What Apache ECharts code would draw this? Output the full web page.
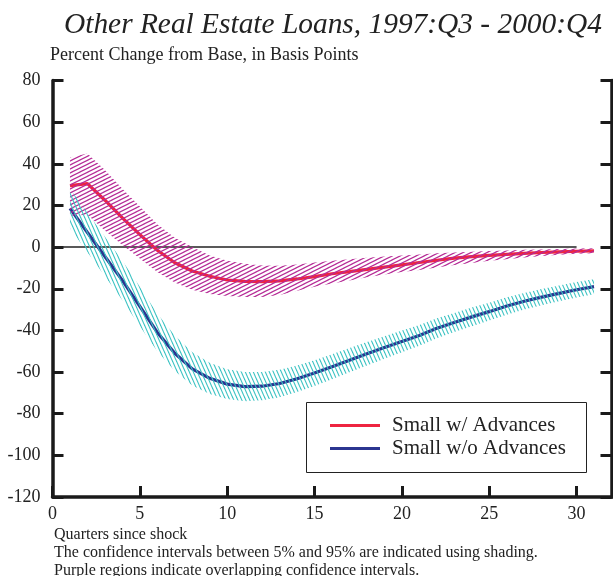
<!DOCTYPE html>
<html>
<head>
<meta charset="utf-8">
<script src="https://cdn.jsdelivr.net/npm/echarts@6/dist/echarts.min.js"></script>
<style>
html,body{margin:0;padding:0;background:#fff;}
#chart{width:613px;height:576px;}
</style>
</head>
<body>
<div id="chart"></div>
<script>
// ---- data ----
const quarters = [1,2,3,4,5,6,7,8,9,10,11,12,13,14,15,16,17,18,19,20,21,22,23,24,25,26,27,28,29,30,31];
const redMid   = [29.5,30.5,22.5,14,6,-1.5,-7.5,-11.5,-14,-15.8,-16.5,-16.6,-16.2,-15.3,-14.2,-12.8,-11.8,-10.7,-9.6,-8.5,-7.4,-6.3,-5.3,-4.6,-4.0,-3.5,-3.0,-2.6,-2.3,-2.0,-1.8];
const redUpper = [43,45,37,28,19.5,11,4.5,0,-4,-6.5,-8,-8.8,-9,-8.3,-7.4,-6.5,-5.8,-5.1,-4.5,-4,-3.5,-3,-2.6,-2.2,-1.9,-1.6,-1.3,-1.1,-0.9,-0.7,-0.5];
const redLower = [15,15.5,8,1,-5.5,-12,-17,-20.5,-22.5,-23.5,-24,-24,-23,-21,-19,-17.5,-16,-14.5,-13.2,-12,-11,-9.8,-8.6,-7.6,-6.6,-5.8,-5,-4.3,-3.7,-3.2,-2.9];
const blueMid   = [18.6,7,-4.5,-16,-28.5,-41,-51,-58.5,-63,-65.8,-67,-66.8,-65.5,-63.2,-60.5,-57.5,-54.3,-51.2,-48.2,-45.3,-42.4,-39,-36.2,-33.5,-31,-28.3,-26,-24,-22.2,-20.5,-19];
const blueUpper = [28,16.5,5,-6.5,-19,-32,-42.5,-50.5,-55.5,-58.6,-60,-60,-58.9,-56.8,-54.3,-51.5,-48.5,-45.6,-42.8,-40.1,-37.4,-34.2,-31.6,-29,-26.7,-24.1,-22,-20.1,-18.4,-16.8,-15.4];
const blueLower = [9,-2.5,-14,-25.5,-38,-50,-59.5,-66.5,-70.5,-73,-74,-73.6,-72.1,-69.6,-66.7,-63.5,-60.1,-56.8,-53.6,-50.5,-47.4,-43.8,-40.8,-38,-35.3,-32.5,-30,-27.9,-26,-24.2,-22.6];
const zeroLineX = [0, 30];
const xTickLabels = [0,5,10,15,20,25,30];
const seriesNames = ['Small w/ Advances', 'Small w/o Advances'];
const titleText = 'Other Real Estate Loans, 1997:Q3 - 2000:Q4';
const yAxisTitle = 'Percent Change from Base, in Basis Points';
const notes = ['Quarters since shock',
  'The confidence intervals between 5% and 95% are indicated using shading.',
  'Purple regions indicate overlapping confidence intervals.'];

// ---- hatch patterns ----
function makeHatch(w, h, color, lw, dir) {
  const c = document.createElement('canvas');
  c.width = w; c.height = h;
  const ctx = c.getContext('2d');
  ctx.strokeStyle = color; ctx.lineWidth = lw;
  for (let k = -2; k <= 2; k++) {
    ctx.beginPath();
    if (dir === 'up') {
      ctx.moveTo(k * w - w, 2 * h); ctx.lineTo(k * w + 2 * w, -h);
    } else {
      ctx.moveTo(k * w - w, -h); ctx.lineTo(k * w + 2 * w, 2 * h);
    }
    ctx.stroke();
  }
  return c;
}
const purpleHatch = makeHatch(8, 4, '#b52a96', 1.2, 'up');
const cyanHatch = makeHatch(4, 9, '#3cc3c3', 1.1, 'down');

const pairs = arr => quarters.map((q, i) => [q, arr[i]]);
const bandData = (lo, up) => quarters.map((q, i) => [q, lo[i], up[i]]);

function bandRenderer(pattern) {
  return function (params, api) {
    if (params.dataIndex !== 0) return null;
    const top = [], bot = [];
    for (let i = 0; i < quarters.length; i++) {
      top.push(api.coord([api.value(0, i), api.value(2, i)]));
      bot.push(api.coord([api.value(0, i), api.value(1, i)]));
    }
    const pts = top.concat(bot.reverse());
    return {
      type: 'polygon', shape: {points: pts}, silent: true,
      style: {fill: {image: pattern, repeat: 'repeat'}, stroke: null}
    };
  };
}

const font = 'Liberation Serif';
const chart = echarts.init(document.getElementById('chart'), null, {renderer: 'canvas'});

chart.setOption({
  animation: false,
  backgroundColor: '#fff',
  grid: {left: 52.5, right: 1.5, top: 80.5, bottom: 79},
  xAxis: {
    type: 'value', min: 0, max: 32, interval: 5,
    splitLine: {show: false},
    axisLine: {onZero: false, lineStyle: {color: '#1a1a1a', width: 3.5}},
    axisTick: {inside: true, length: 11, lineStyle: {color: '#1a1a1a', width: 3}, customValues: xTickLabels},
    axisLabel: {color: '#222', fontFamily: font, fontSize: 18, margin: 8, customValues: xTickLabels}
  },
  yAxis: [{
    type: 'value', min: -120, max: 80, interval: 20, position: 'left',
    splitLine: {show: false},
    axisLine: {show: true, onZero: false, lineStyle: {color: '#1a1a1a', width: 3.5}},
    axisTick: {show: true, inside: true, length: 11, lineStyle: {color: '#1a1a1a', width: 3}},
    axisLabel: {color: '#222', fontFamily: font, fontSize: 18, margin: 12}
  }, {
    type: 'value', min: -120, max: 80, interval: 20, position: 'right',
    splitLine: {show: false},
    axisLine: {show: true, onZero: false, lineStyle: {color: '#1a1a1a', width: 3.5}},
    axisTick: {show: true, inside: true, length: 11, lineStyle: {color: '#1a1a1a', width: 3}},
    axisLabel: {show: false}
  }],
  legend: {
    data: seriesNames.map(n => ({name: n, icon: 'rect'})),
    orient: 'vertical', left: 325, top: 410,
    itemWidth: 50, itemHeight: 3, itemGap: 2,
    textStyle: {fontFamily: font, fontSize: 21, color: '#222', padding: [0, 0, 0, 7], lineHeight: 21},
    z: 10
  },
  graphic: [
    {type: 'rect', left: 306, top: 402, z: 5,
      shape: {width: 280, height: 70}, style: {fill: '#fff', stroke: '#222', lineWidth: 1}},
    {type: 'text', left: 64, top: 11, style: {text: titleText, font: 'italic 29.4px "' + font + '"', fill: '#222'}},
    {type: 'text', left: 50, top: 46, style: {text: yAxisTitle, font: '18px "' + font + '"', fill: '#222'}},
    {type: 'text', left: 54, top: 527, style: {text: notes[0], font: '16px "' + font + '"', fill: '#222'}},
    {type: 'text', left: 54, top: 545, style: {text: notes[1], font: '16px "' + font + '"', fill: '#222'}},
    {type: 'text', left: 54, top: 563, style: {text: notes[2], font: '16px "' + font + '"', fill: '#222'}}
  ],
  series: [
    {type: 'line', name: 'zero', data: zeroLineX.map(x => [x, 0]), symbol: 'none', silent: true,
      lineStyle: {color: '#222', width: 1.5}, z: 1},
    {type: 'line', name: seriesNames[0], data: pairs(redMid), symbol: 'none', smooth: false,
      lineStyle: {color: '#ee2440', width: 3.2}, itemStyle: {color: '#ee2440'}, z: 3},
    {type: 'line', name: seriesNames[1], data: pairs(blueMid), symbol: 'none', smooth: false,
      lineStyle: {color: '#2b3590', width: 3.2}, itemStyle: {color: '#2b3590'}, z: 3},
    {type: 'custom', name: 'redBand', data: bandData(redLower, redUpper), z: 4, silent: true,
      encode: {x: 0, y: [1, 2]}, clip: false, renderItem: bandRenderer(purpleHatch)},
    {type: 'custom', name: 'blueBand', data: bandData(blueLower, blueUpper), z: 4, silent: true,
      encode: {x: 0, y: [1, 2]}, clip: false, renderItem: bandRenderer(cyanHatch)}
  ]
});
</script>
</body>
</html>
